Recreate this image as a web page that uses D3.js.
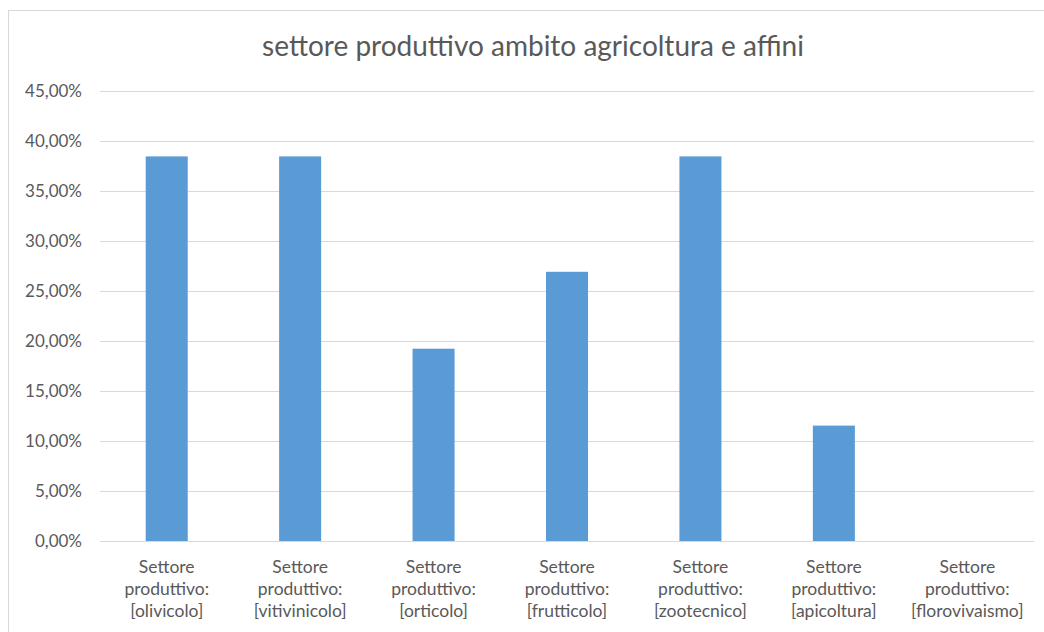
<!DOCTYPE html>
<html><head><meta charset="utf-8">
<script src="https://cdn.jsdelivr.net/npm/d3@7"></script>
<style>body{margin:0;background:#fff;}svg{display:block;}</style>
</head><body>
<svg id="c" width="1044" height="632"></svg>
<script>
const categories = [
  ["Settore","produttivo:","[olivicolo]"],
  ["Settore","produttivo:","[vitivinicolo]"],
  ["Settore","produttivo:","[orticolo]"],
  ["Settore","produttivo:","[frutticolo]"],
  ["Settore","produttivo:","[zootecnico]"],
  ["Settore","produttivo:","[apicoltura]"],
  ["Settore","produttivo:","[florovivaismo]"]
];
const values = [0.3846, 0.3846, 0.1923, 0.2692, 0.3846, 0.1154, 0];
const yTicks = [0,0.05,0.10,0.15,0.20,0.25,0.30,0.35,0.40,0.45];
const title = "settore produttivo ambito agricoltura e affini";

const font = "Lato, 'Open Sans', sans-serif";
const svg = d3.select("#c");
svg.append("rect").attr("x",8.5).attr("y",10.5).attr("width",1050).attr("height",640)
  .attr("fill","#fff").attr("stroke","#d9d9d9").attr("stroke-width",1);

const m = {left:100, right:1034, top:91, bottom:541};
const x = d3.scaleBand().domain(d3.range(categories.length)).range([m.left,m.right]).paddingInner(0.685).paddingOuter(0.3425);
const y = d3.scaleLinear().domain([0,0.45]).range([m.bottom,m.top]);

const fmt = v => d3.format(".2f")(v*100).replace(".",",") + "%";

const ya = svg.append("g").attr("transform",`translate(${m.left},0)`)
  .call(d3.axisLeft(y).tickValues(yTicks).tickSize(-(m.right-m.left)).tickFormat(fmt).tickPadding(18));
ya.select(".domain").remove();
ya.selectAll(".tick line").attr("stroke","#d9d9d9").attr("stroke-width",1);
ya.selectAll(".tick text").attr("fill","#595959").style("font-family",font).style("font-size","17px");

svg.append("g").selectAll("rect").data(values).join("rect")
  .attr("x",(d,i)=>x(i)).attr("width",x.bandwidth())
  .attr("y",d=>y(d)).attr("height",d=>y(0)-y(d))
  .attr("fill","#5b9bd5");

const xa = svg.append("g").attr("transform",`translate(0,${m.bottom})`)
  .call(d3.axisBottom(x).tickSize(0).tickFormat(""));
xa.select(".domain").attr("stroke","#d9d9d9");
xa.selectAll(".tick").each(function(d,i){
  const t = d3.select(this).append("text").attr("fill","#595959").attr("text-anchor","middle")
    .style("font-family",font).style("font-size","17.5px");
  categories[i].forEach((s,j)=>{
    t.append("tspan").attr("x",0).attr("y",32+j*22).text(s);
  });
});

svg.append("text").attr("x",533).attr("y",56).attr("text-anchor","middle")
  .attr("fill","#595959").style("font-family",font).style("font-size","28px").text(title);
</script>
</body></html>
